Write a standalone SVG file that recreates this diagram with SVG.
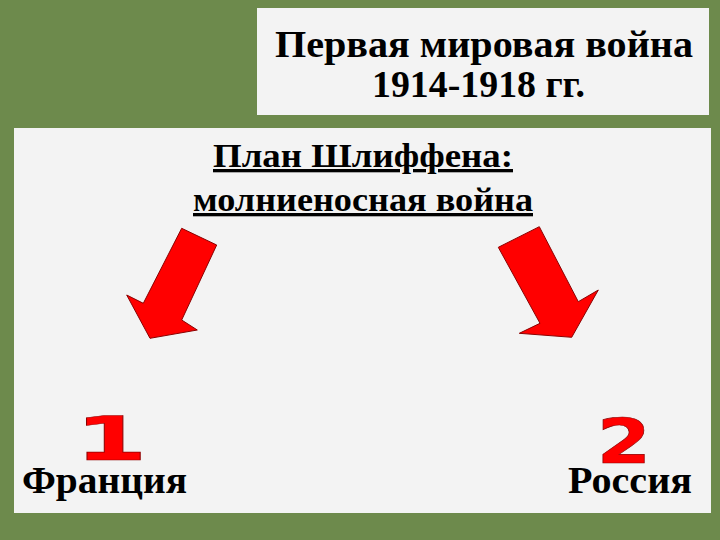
<svg xmlns="http://www.w3.org/2000/svg" width="720" height="540" viewBox="0 0 720 540">
<style>
.panel{fill:#f3f3f3}
.t{font-family:"Liberation Serif","Times New Roman",serif;font-weight:bold;fill:#000}
.arrow{fill:#ff0000;stroke:#8b0000;stroke-width:1;stroke-linejoin:miter}
.num{font-family:"DejaVu Sans","Liberation Sans",sans-serif;font-weight:bold;fill:#ff0000;stroke:#8b0000;stroke-width:0.6}
</style>
<rect x="0" y="0" width="720" height="540" fill="#6d8a4c"/>
<g id="title">
<rect class="panel" x="257" y="8" width="452" height="107"/>
<text class="t" x="275" y="57" font-size="38" textLength="418" lengthAdjust="spacingAndGlyphs">Первая мировая война</text>
<text class="t" x="372" y="97" font-size="38" textLength="213" lengthAdjust="spacingAndGlyphs">1914-1918 гг.</text>
</g>
<g id="main">
<rect class="panel" x="14" y="128" width="697" height="385"/>
</g>
<g id="plan">
<text class="t" x="213" y="167" font-size="33" textLength="300" lengthAdjust="spacingAndGlyphs" text-decoration="underline">План Шлиффена:</text>
<text class="t" x="193" y="211" font-size="33" textLength="340" lengthAdjust="spacingAndGlyphs" text-decoration="underline">молниеносная война</text>
</g>
<g id="connectors">
<polygon class="arrow" points="181.7,228.3 216.7,245 181.7,320 197.3,330 150,338.3 126.7,295 143.3,303.3"/>
<polygon class="arrow" points="498.3,247.3 539.3,226.7 578.3,301.7 598.3,290 571.7,337.3 519.3,333.3 540,323.3"/>
</g>
<g id="france">
<text class="num" transform="translate(111,460) scale(1.8,1.05)" font-size="58" text-anchor="middle">1</text>
<text class="t" x="22" y="493" font-size="37" textLength="165" lengthAdjust="spacingAndGlyphs">Франция</text>
</g>
<g id="russia">
<text class="num" transform="translate(624,463) scale(1.3,1.05)" font-size="60" text-anchor="middle">2</text>
<text class="t" x="568" y="493" font-size="37" textLength="124" lengthAdjust="spacingAndGlyphs">Россия</text>
</g>
</svg>
